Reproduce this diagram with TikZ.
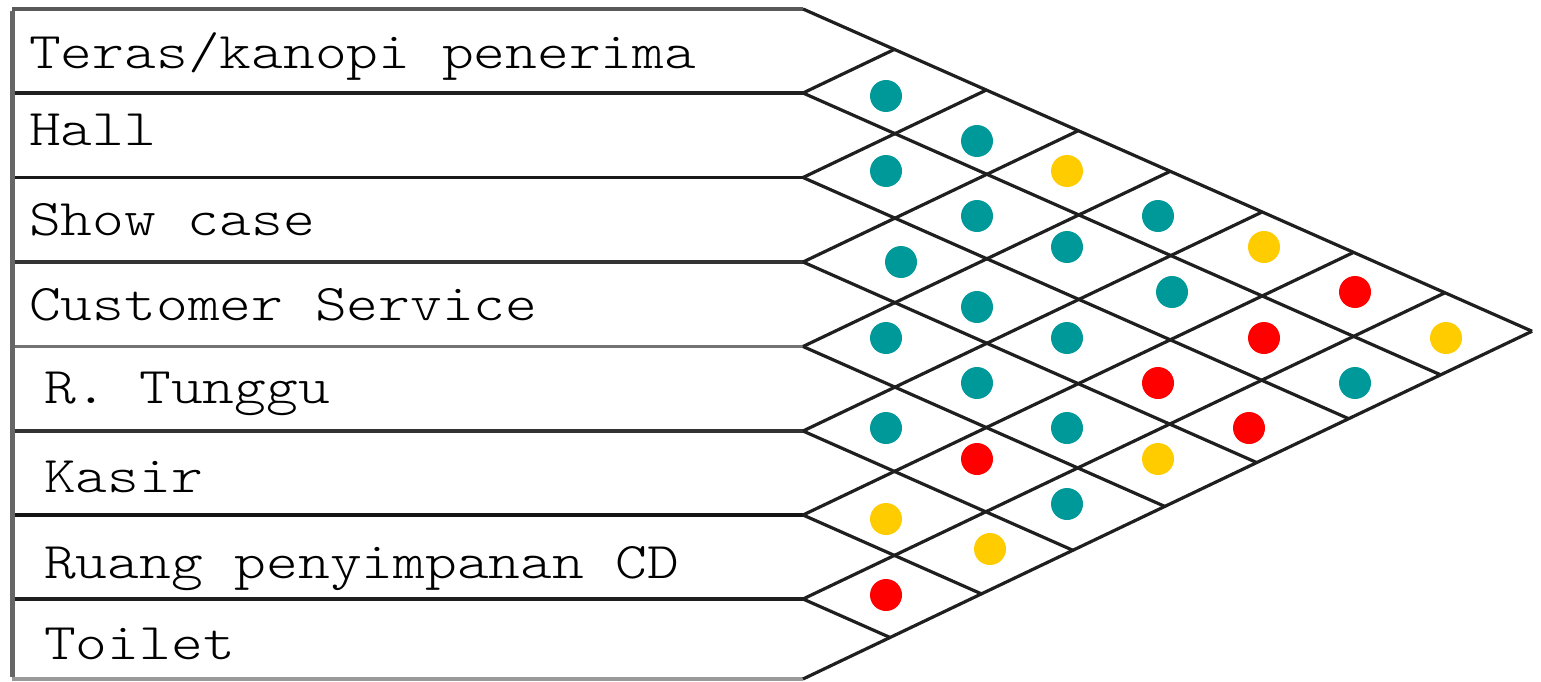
\documentclass[tikz,border=0pt]{standalone}
\usepackage{fontspec}
\newfontfamily\labelfont{lmmonolt10-regular.otf}[FakeStretch=1.175]
\definecolor{relteal}{RGB}{0,153,153}
\definecolor{relyellow}{RGB}{255,204,0}
\definecolor{relred}{RGB}{255,0,0}

\begin{document}
\begin{tikzpicture}[x=1pt,y=-1pt,
  rowlabel/.style={anchor=base west,inner sep=0pt,text=black,
    font=\labelfont\fontsize{51.5}{60}\selectfont},
  gridline/.style={line width=3.2pt,draw=black!88},
  relation/.style={circle,inner sep=0pt,minimum size=32pt,draw=none},
  tealdot/.style={relation,fill=relteal},
  yellowdot/.style={relation,fill=relyellow},
  reddot/.style={relation,fill=relred}]

% canvas
\fill[white] (0,0) rectangle (1541,682);
\useasboundingbox (0,0) rectangle (1541,682);

% row boundaries: left end (a) and start of the diagonal grid (b)
\foreach \y/\c [count=\k from 0] in
  {9/65,93/88,177.5/90,262/80,346.5/55,431/80,515/92,599/88,679/40}{
  \coordinate (a\k) at (12,\y);
  \coordinate (b\k) at (803,\y);
  \draw[line width=3.6pt,draw=black!\c] (a\k) -- (b\k);
}
\draw[line width=5pt,draw=black!60] ([yshift=-1.8pt]a0) -- ([yshift=1.8pt]a8);

% diagonal grid: falling lines (slope 0.442) and rising lines (slope 0.477)
\foreach \y [count=\k from 0] in {9,93,177.5,262,346.5,431,515,599}{
  \draw[gridline] (b\k) -- ++({(679-\y)/0.919},{0.442*(679-\y)/0.919});
}
\foreach \y [count=\k from 1] in {93,177.5,262,346.5,431,515,599,679}{
  \draw[gridline] (b\k) -- ++({(\y-9)/0.919},{-0.477*(\y-9)/0.919});
}

% row labels
\node[rowlabel] (teras)  at (29,69)  {Teras/kanopi penerima};
\node[rowlabel] (hall)   at (29,146) {Hall};
\node[rowlabel] (show)   at (29,235) {Show case};
\node[rowlabel] (cs)     at (29,320) {Customer Service};
\node[rowlabel] (tunggu) at (44,403) {R. Tunggu};
\node[rowlabel] (kasir)  at (44,492) {Kasir};
\node[rowlabel] (cd)     at (44,578) {Ruang penyimpanan CD};
\node[rowlabel] (toilet) at (44,659) {Toilet};

% relation marks
\node[tealdot]   (r12) at (886,96)   {};
\node[tealdot]   (r13) at (977,141)  {};
\node[tealdot]   (r23) at (886,171)  {};
\node[yellowdot] (r14) at (1067,171) {};
\node[tealdot]   (r24) at (977,216)  {};
\node[tealdot]   (r15) at (1158,216) {};
\node[tealdot]   (r25) at (1067,247) {};
\node[yellowdot] (r16) at (1264,247) {};
\node[tealdot]   (r34) at (901,262)  {};
\node[tealdot]   (r26) at (1172,292) {};
\node[reddot]    (r17) at (1355,292) {};
\node[tealdot]   (r35) at (977,307)  {};
\node[tealdot]   (r45) at (886,338)  {};
\node[tealdot]   (r36) at (1067,338) {};
\node[reddot]    (r27) at (1264,338) {};
\node[yellowdot] (r18) at (1446,338) {};
\node[tealdot]   (r46) at (977,383)  {};
\node[reddot]    (r37) at (1158,383) {};
\node[tealdot]   (r28) at (1355,383) {};
\node[tealdot]   (r56) at (886,428)  {};
\node[tealdot]   (r47) at (1067,428) {};
\node[reddot]    (r38) at (1249,428) {};
\node[reddot]    (r57) at (977,459)  {};
\node[yellowdot] (r48) at (1158,459) {};
\node[tealdot]   (r58) at (1067,504) {};
\node[yellowdot] (r67) at (886,519)  {};
\node[yellowdot] (r68) at (990,549)  {};
\node[reddot]    (r78) at (886,595)  {};
\end{tikzpicture}
\end{document}
